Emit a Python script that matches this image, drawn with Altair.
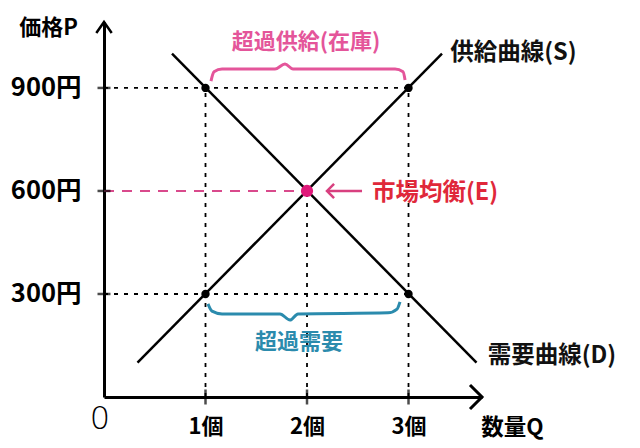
import altair as alt
import pandas as pd

# ---------------- data ----------------
price_ticks = [300, 600, 900]
price_labels = ["300円", "600円", "900円"]
qty_ticks = [1, 2, 3]
qty_labels = ["1個", "2個", "3個"]

supply_q = [0.33, 3.33]
supply_p = [100, 1000]
demand_q = [0.67, 3.67]
demand_p = [1000, 100]

dot_q = [1, 3, 1, 3]
dot_p = [900, 900, 300, 300]
eq_q = [2]
eq_p = [600]

hguide_p = [900, 300]
hguide_qend = [3, 3]
vguide_q = [1, 2, 3]
vguide_pend = [900, 600, 900]

brace_s_q = [1.054, 1.084, 1.163, 1.685, 1.783, 1.862, 2.867, 2.946, 2.966]
brace_s_p = [920, 947, 955, 955, 970, 955, 955, 947, 923]
brace_d_q = [1.025, 1.064, 1.163, 1.734, 1.833, 1.911, 2.798, 2.887, 2.916]
brace_d_p = [271, 250, 242, 242, 224, 242, 245, 256, 277]

ann_text = ["超過供給(在庫)", "超過需要", "供給曲線(S)", "需要曲線(D)", "市場均衡(E)"]

# ---------------- layout ----------------
X_DOM = [0, 3.724]
Y_DOM = [0, 1092]
FONT = "Noto Sans CJK JP"
PINK = "#e4559a"
PINK_DOT = "#e0197a"
RED = "#e0283a"
TEAL = "#2b8bad"

ann_q = [1.99, 1.92, 3.41, 3.78, 2.64]
ann_p = [1034, 160, 1002, 119, 594]
ann_color = [PINK, TEAL, "#111111", "#111111", RED]
ann_align = ["center", "center", "left", "left", "left"]
ann_size = [22, 22, 23.5, 23.5, 23.5]


def label_expr(vals, labs):
    expr = "''"
    for v, l in zip(vals, labs):
        expr = f"datum.value == {v} ? '{l}' : ({expr})"
    return expr


AX_X = alt.Axis(values=qty_ticks, labelExpr=label_expr(qty_ticks, qty_labels),
                ticks=False, tickSize=0, grid=False, domain=True, domainWidth=3, domainColor="black",
                labelFont=FONT, labelFontSize=22, labelFontWeight="bold", labelColor="black",
                labelPadding=19, title="数量Q", titleFont=FONT, titleFontSize=22.5,
                titleFontWeight="bold", titleColor="black", titleX=408, titleY=30,
                titleAlign="center", titleBaseline="middle")
AX_Y = alt.Axis(values=price_ticks, labelExpr=label_expr(price_ticks, price_labels),
                ticks=False, tickSize=0, grid=False, domain=True, domainWidth=3, domainColor="black",
                labelFont=FONT, labelFontSize=25.5, labelFontWeight="bold", labelColor="black",
                labelPadding=23, labelBound=False, title="価格P", titleFont=FONT, titleFontSize=22,
                titleFontWeight="bold", titleColor="black", titleAngle=0, titleX=-56, titleY=5,
                titleAlign="center", titleBaseline="middle")


def X(field="q"):
    return alt.X(f"{field}:Q", scale=alt.Scale(domain=X_DOM, nice=False, zero=False), axis=AX_X)


def Y(field="p"):
    return alt.Y(f"{field}:Q", scale=alt.Scale(domain=Y_DOM, nice=False, zero=False), axis=AX_Y)


# axis ticks drawn as tick marks straddling the axis
xticks = alt.Chart(pd.DataFrame({"q": qty_ticks, "p": [0] * 3})).mark_tick(
    orient="vertical", size=15, thickness=2.5, color="black"
).encode(x=X("q"), y=Y("p"))
yticks = alt.Chart(pd.DataFrame({"q": [0] * 3, "p": price_ticks})).mark_tick(
    orient="horizontal", size=13, thickness=2.5, color="black"
).encode(x=X("q"), y=Y("p"))

# arrowheads on the axes
arrow_up = alt.Chart(pd.DataFrame({"q": [0], "p": [Y_DOM[1]]})).mark_point(
    shape="M-0.7,1L0,0L0.7,1", size=484, filled=False, strokeWidth=2.5, color="black", opacity=1
).encode(x=X(), y=Y())
arrow_right = alt.Chart(pd.DataFrame({"q": [X_DOM[1]], "p": [0]})).mark_point(
    shape="M-1,-1L0,0L-1,1", size=576, filled=False, strokeWidth=3, color="black", opacity=1
).encode(x=X(), y=Y())

zero = alt.Chart(pd.DataFrame({"q": [-0.04], "p": [-64], "t": ["0"]})).mark_text(
    font="DejaVu Sans", fontSize=32, fontWeight=300, color="black", baseline="middle", align="center"
).encode(x=X(), y=Y(), text="t:N")

# guide lines
hg = alt.Chart(pd.DataFrame({"q": [0, 0], "q1": hguide_qend, "p": hguide_p})).mark_rule(
    color="black", strokeWidth=1.8, strokeDash=[4, 6]
).encode(x=X("q"), x2="q1:Q", y=Y("p"))
vg = alt.Chart(pd.DataFrame({"q": vguide_q, "p": [0, 0, 0], "p1": vguide_pend})).mark_rule(
    color="black", strokeWidth=1.8, strokeDash=[4, 6]
).encode(x=X("q"), y=Y("p"), y2="p1:Q")
pg = alt.Chart(pd.DataFrame({"q": [0], "q1": eq_q, "p": eq_p})).mark_rule(
    color="#d94a8c", strokeWidth=2, strokeDash=[10, 8]
).encode(x=X("q"), x2="q1:Q", y=Y("p"))

# curves
supply = alt.Chart(pd.DataFrame({"q": supply_q, "p": supply_p})).mark_line(
    color="black", strokeWidth=2.5
).encode(x=X(), y=Y())
demand = alt.Chart(pd.DataFrame({"q": demand_q, "p": demand_p})).mark_line(
    color="black", strokeWidth=2.5
).encode(x=X(), y=Y())

# braces
brace_s = alt.Chart(pd.DataFrame({"q": brace_s_q, "p": brace_s_p})).mark_line(
    color=PINK, strokeWidth=3, interpolate="monotone"
).encode(x=X(), y=Y(), order="q:Q")
brace_d = alt.Chart(pd.DataFrame({"q": brace_d_q, "p": brace_d_p})).mark_line(
    color=TEAL, strokeWidth=3, interpolate="monotone"
).encode(x=X(), y=Y(), order="q:Q")

# points
dots = alt.Chart(pd.DataFrame({"q": dot_q, "p": dot_p})).mark_point(
    filled=True, size=70, color="black", opacity=1
).encode(x=X(), y=Y())
eq = alt.Chart(pd.DataFrame({"q": eq_q, "p": eq_p})).mark_point(
    filled=True, size=150, color=PINK_DOT, opacity=1
).encode(x=X(), y=Y())

# equilibrium arrow
arr_line = alt.Chart(pd.DataFrame({"q": [2.197], "q1": [2.542], "p": [600]})).mark_rule(
    color="#d8407f", strokeWidth=2.5
).encode(x=X("q"), x2="q1:Q", y=Y("p"))
arr_head = alt.Chart(pd.DataFrame({"q": [2.197], "p": [600]})).mark_point(
    shape="M1,-1L0,0L1,1", size=200, filled=False, strokeWidth=2.5, color="#d8407f", opacity=1
).encode(x=X(), y=Y())

# annotations
ann_df = pd.DataFrame({"q": ann_q, "p": ann_p, "t": ann_text})
ann_layers = []
for i in range(len(ann_text)):
    ann_layers.append(
        alt.Chart(ann_df.iloc[[i]]).mark_text(
            font=FONT, fontSize=ann_size[i], fontWeight="bold", color=ann_color[i],
            align=ann_align[i], baseline="middle"
        ).encode(x=X(), y=Y(), text="t:N")
    )

chart = alt.layer(
    hg, vg, pg, supply, demand, brace_s, brace_d, xticks, yticks, arrow_up, arrow_right, zero,
    dots, eq, arr_line, arr_head, *ann_layers
).properties(
    width=378, height=375,
    padding={"left": 96, "top": 14, "right": 150, "bottom": 43},
    autosize=alt.AutoSizeParams(type="none"),
    background="white",
).configure_view(stroke=None)

chart.save("out.html", embed_options={"renderer": "svg", "actions": False})
